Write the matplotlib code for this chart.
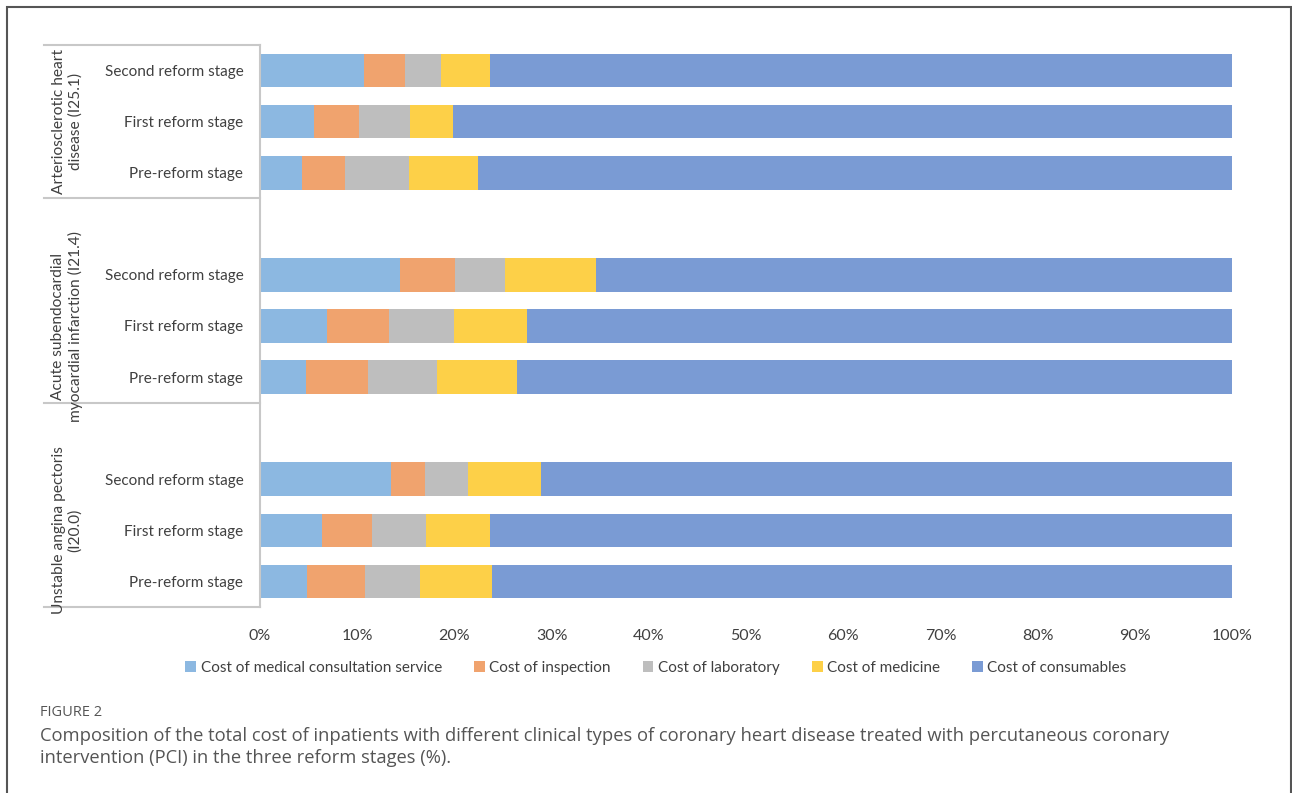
import matplotlib.pyplot as plt
from matplotlib.patches import Rectangle
from matplotlib.transforms import blended_transform_factory

# stages per group, bottom to top inside each group
stages = ["Pre-reform stage", "First reform stage", "Second reform stage"]
groups = ["Unstable angina pectoris\n(I20.0)",
          "Acute subendocardial\nmyocardial infarction (I21.4)",
          "Arteriosclerotic heart\ndisease (I25.1)"]
cost_types = ["Cost of medical consultation service", "Cost of inspection",
              "Cost of laboratory", "Cost of medicine", "Cost of consumables"]

# shares (%) per group: rows = Pre, First, Second
unstable = [[4.8, 6.0, 5.7, 7.4, 76.1],
            [6.4, 5.1, 5.6, 6.6, 76.3],
            [13.5, 3.5, 4.4, 7.5, 71.1]]
acute = [[4.7, 6.4, 7.1, 8.2, 73.6],
         [6.9, 6.4, 6.7, 7.5, 72.5],
         [14.4, 5.7, 5.1, 9.4, 65.4]]
arterio = [[4.3, 4.4, 6.6, 7.1, 77.6],
           [5.6, 4.6, 5.2, 4.5, 80.1],
           [10.7, 4.2, 3.7, 5.1, 76.3]]

colors = ["#8CB8E1", "#F0A36E", "#BEBEBE", "#FDD048", "#7A9BD4"]

plt.rcParams["font.family"] = ["Lato", "DejaVu Sans"]

fig = plt.figure(figsize=(12.92, 7.93), dpi=100)
ax = fig.add_axes([260/1292, 1-607/793, 972/1292, 562/793])

# slot positions: each group of 3 bars plus an empty slot between groups
data = [unstable, acute, arterio]
ypos = []
rows = []
labels = []
for gi, grp in enumerate(data):
    for si, row in enumerate(grp):
        ypos.append(gi*4 + si)
        rows.append(row)
        labels.append(stages[si])

left = [0.0]*len(rows)
for k in range(len(cost_types)):
    vals = [r[k] for r in rows]
    ax.barh(ypos, vals, left=left, height=0.66, color=colors[k],
            label=cost_types[k])
    left = [a+b for a, b in zip(left, vals)]

ax.set_xlim(0, 100)
ax.set_ylim(-0.5, 10.5)
ax.set_xticks(range(0, 101, 10))
ax.set_xticklabels([f"{v}%" for v in range(0, 101, 10)])
ax.set_yticks(ypos)
ax.set_yticklabels(labels)
ax.tick_params(axis="both", length=0, labelsize=11.5, colors="#404040")
ax.tick_params(axis="y", labelsize=11, pad=12)
ax.tick_params(axis="x", pad=16)
for s in ["top", "right", "bottom"]:
    ax.spines[s].set_visible(False)
ax.spines["left"].set_color("#C8C8C8")
ax.spines["left"].set_linewidth(1.5)

# group label box on the left
tr = blended_transform_factory(ax.transAxes, ax.transData)
for yb in [-0.5, 3.5, 7.5, 10.5]:
    ax.plot([-0.222, 0], [yb, yb], color="#C8C8C8", lw=1.5,
            transform=tr, clip_on=False)
for gi, g in enumerate(groups):
    ax.text(-0.1985, gi*4 + 1 if gi < 2 else 9, g, transform=tr,
            rotation=90, ha="center", va="center", fontsize=11.2,
            color="#404040", linespacing=1.2)

fig.legend(loc="center", bbox_to_anchor=(656/1292, 1-668/793), ncol=5,
           frameon=False, fontsize=11, handlelength=0.7, handleheight=0.7,
           handletextpad=0.3, columnspacing=2.1, labelcolor="#404040")

# caption
fig.text(40/1292, 1-712/793, "FIGURE 2", fontsize=10.5, color="#555555",
         family=["Open Sans", "DejaVu Sans"], va="center")
fig.text(40/1292, 1-747/793,
         "Composition of the total cost of inpatients with different clinical types of coronary heart disease treated with percutaneous coronary\n"
         "intervention (PCI) in the three reform stages (%).",
         fontsize=13.2, color="#555555", family=["Open Sans", "DejaVu Sans"],
         va="center", linespacing=1.33)

# outer frame
fig.patches.append(Rectangle((7/1292, -0.05), 1284/1292, 1.05-7/793,
                             transform=fig.transFigure, fill=False,
                             edgecolor="#555555", lw=1.5))

fig.savefig("out.png", dpi=100)
